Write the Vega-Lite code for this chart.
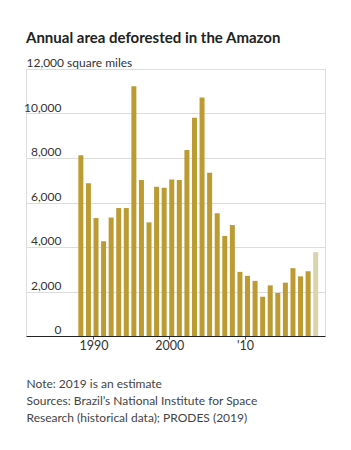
{
  "$schema": "https://vega.github.io/schema/vega-lite/v6.json",
  "width": 299,
  "height": 267,
  "autosize": {"type": "none"},
  "padding": {"left": 26, "top": 69, "right": 26, "bottom": 114},
  "background": "white",
  "title": {
    "text": "Annual area deforested in the Amazon",
    "anchor": "start",
    "frame": "group",
    "font": "Lato",
    "fontSize": 15,
    "fontWeight": "bold",
    "color": "#222222",
    "baseline": "alphabetic",
    "offset": -1
  },
  "data": {
    "values": [
      {"year": 1988, "area": 8127, "status": "Final"},
      {"year": 1989, "area": 6861, "status": "Final"},
      {"year": 1990, "area": 5301, "status": "Final"},
      {"year": 1991, "area": 4259, "status": "Final"},
      {"year": 1992, "area": 5323, "status": "Final"},
      {"year": 1993, "area": 5751, "status": "Final"},
      {"year": 1994, "area": 5751, "status": "Final"},
      {"year": 1995, "area": 11220, "status": "Final"},
      {"year": 1996, "area": 7012, "status": "Final"},
      {"year": 1997, "area": 5107, "status": "Final"},
      {"year": 1998, "area": 6712, "status": "Final"},
      {"year": 1999, "area": 6664, "status": "Final"},
      {"year": 2000, "area": 7037, "status": "Final"},
      {"year": 2001, "area": 7014, "status": "Final"},
      {"year": 2002, "area": 8359, "status": "Final"},
      {"year": 2003, "area": 9805, "status": "Final"},
      {"year": 2004, "area": 10723, "status": "Final"},
      {"year": 2005, "area": 7341, "status": "Final"},
      {"year": 2006, "area": 5516, "status": "Final"},
      {"year": 2007, "area": 4498, "status": "Final"},
      {"year": 2008, "area": 4985, "status": "Final"},
      {"year": 2009, "area": 2882, "status": "Final"},
      {"year": 2010, "area": 2703, "status": "Final"},
      {"year": 2011, "area": 2478, "status": "Final"},
      {"year": 2012, "area": 1765, "status": "Final"},
      {"year": 2013, "area": 2275, "status": "Final"},
      {"year": 2014, "area": 1935, "status": "Final"},
      {"year": 2015, "area": 2397, "status": "Final"},
      {"year": 2016, "area": 3048, "status": "Final"},
      {"year": 2017, "area": 2682, "status": "Final"},
      {"year": 2018, "area": 2910, "status": "Final"},
      {"year": 2019, "area": 3769, "status": "Estimate"}
    ]
  },
  "mark": {"type": "bar", "width": 5, "xOffset": 2.5},
  "encoding": {
    "x": {
      "field": "year",
      "type": "quantitative",
      "scale": {"domain": [1981.75, 2019.9], "nice": false, "zero": false},
      "axis": {
        "values": [1990, 2000, 2010],
        "labelExpr": "datum.value == 2010 ? \"'10\" : '' + datum.value",
        "grid": false,
        "domainColor": "#222222",
        "domainWidth": 1,
        "tickColor": "#555555",
        "tickSize": 3,
        "labelPadding": 0,
        "labelFont": "Lato",
        "labelFontSize": 12.5,
        "labelColor": "#333333",
        "title": ["Note: 2019 is an estimate", "Sources: Brazil’s National Institute for Space", "Research (historical data); PRODES (2019)"],
        "titleAnchor": "start",
        "titleAlign": "left",
        "titleBaseline": "top",
        "titleFont": "Lato",
        "titleFontSize": 12,
        "titleFontWeight": "normal",
        "titleColor": "#444444",
        "titleLineHeight": 17,
        "titlePadding": 27
      }
    },
    "y": {
      "field": "area",
      "type": "quantitative",
      "scale": {"domain": [0, 12000], "nice": false},
      "axis": {
        "values": [0, 2000, 4000, 6000, 8000, 10000, 12000],
        "labelExpr": "datum.value == 12000 ? '12,000 square miles' : format(datum.value, ',')",
        "domain": false,
        "ticks": false,
        "tickSize": 0,
        "labelAlign": {"condition": {"test": "datum.value == 12000", "value": "left"}, "value": "right"},
        "labelPadding": {"condition": {"test": "datum.value == 12000", "value": 0}, "value": -35},
        "labelBaseline": "alphabetic",
        "labelOffset": -2.5,
        "labelFont": "Lato",
        "labelFontSize": 12,
        "labelColor": "#333333",
        "gridColor": "#dddddd",
        "title": null
      }
    },
    "color": {
      "field": "status",
      "type": "nominal",
      "scale": {"domain": ["Final", "Estimate"], "range": ["#BC9B33", "#D9D4B0"]},
      "legend": null
    }
  }
}
